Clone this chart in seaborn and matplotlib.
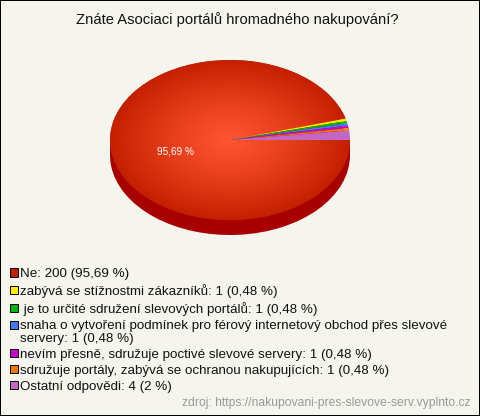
import numpy as np
import matplotlib
matplotlib.use("Agg")
import matplotlib.pyplot as plt
import seaborn as sns
from matplotlib.colors import LinearSegmentedColormap
from matplotlib.patches import Rectangle

title = "Znáte Asociaci portálů hromadného nakupování?"
source = "zdroj: https://nakupovani-pres-slevove-serv.vyplnto.cz"
answers = [
    "Ne: 200 (95,69 %)",
    "zabývá se stížnostmi zákazníků: 1 (0,48 %)",
    " je to určité sdružení slevových portálů: 1 (0,48 %)",
    "snaha o vytvoření podmínek pro férový internetový obchod přes slevové\nservery: 1 (0,48 %)",
    "nevím přesně, sdružuje poctivé slevové servery: 1 (0,48 %)",
    "sdružuje portály, zabývá se ochranou nakupujících: 1 (0,48 %)",
    "Ostatní odpovědi: 4 (2 %)",
]
counts = [200, 1, 1, 1, 1, 1, 4]
colors = ["#C42000", "#FFEE00", "#00B800", "#4477FF", "#CC00CC", "#EE7700", "#C466C4"]

bg = "#F5F5EE"
side = "#A80000"

sns.set_theme(style="white", palette=sns.color_palette(colors))
plt.rcParams["font.family"] = ["Liberation Sans", "DejaVu Sans"]

fig = plt.figure(figsize=(4.8, 4.16), dpi=100, facecolor=bg, edgecolor="black", linewidth=1.44)
ax = fig.add_axes([0, 0, 1, 1])
ax.patch.set_alpha(0)

# side of the "3d" pie, a dark copy shifted down
depth = 15 / 80
ax.pie(counts, colors=[side] * len(counts), center=(0, -depth), counterclock=False, startangle=0,
       wedgeprops={"linewidth": 0})
ax.add_patch(Rectangle((-1, -depth), 2, depth, color=side, lw=0))

wedges, _, pct = ax.pie(
    counts, colors=colors, counterclock=False, startangle=0,
    autopct=lambda p: "95,69 %" if p > 50 else "", pctdistance=0.46,
    textprops={"color": "white", "fontsize": 7.2}, wedgeprops={"linewidth": 0},
)
for t in pct:
    t.set_va("top")
    t.set_position((t.get_position()[0], t.get_position()[1] - 2 / 80))

# radial shine on the big slice
xx, yy = np.meshgrid(np.linspace(-1, 1, 300), np.linspace(-1, 1, 300))
rr = np.clip(np.hypot(xx, yy), 0, 1)
shine = LinearSegmentedColormap.from_list("shine", ["#FF5533", "#E63E1C", "#C42000"])
im = ax.imshow(rr, extent=(-1, 1, -1, 1), origin="lower", cmap=shine, aspect="auto", zorder=wedges[0].get_zorder())
im.set_clip_path(wedges[0])
for w in wedges[1:]:
    w.set_zorder(wedges[0].get_zorder() + 1)
for t in pct:
    t.set_zorder(5)

# squash to an ellipse, 120 x 80 px, centre at (230, 140)
ax.set_aspect("auto")
ax.set_xlim(-230 / 120, 250 / 120)
ax.set_ylim(-276 / 80, 140 / 80)
ax.axis("off")

fig.text(237 / 480, 1 - 20 / 416, title, ha="center", va="center", fontsize=10.6, color="#111111")

fig.legend(
    handles=wedges, labels=answers, loc="upper left", bbox_to_anchor=(10 / 480, 1 - 268 / 416),
    frameon=False, fontsize=9.6, handlelength=0.6, handleheight=0.6, handletextpad=0.13,
    labelspacing=0.3, borderpad=0, borderaxespad=0, labelcolor="#111111",
)
for h, c in zip(fig.legends[0].legend_handles, colors):
    h.set_edgecolor("black")
    h.set_linewidth(0.7)
    h.set_facecolor(c)
# the two line entry keeps its key on the first line
fig.legends[0].legend_handles[3].set_y(fig.legends[0].legend_handles[3].get_y() + 5)
for t in fig.legends[0].get_texts():
    t.set_linespacing(1.1)

fig.text(470 / 480, 1 - 403 / 416, source, ha="right", va="center", fontsize=8.7, color="#999999")

fig.savefig("out.png", dpi=100, facecolor=bg, edgecolor="black")
